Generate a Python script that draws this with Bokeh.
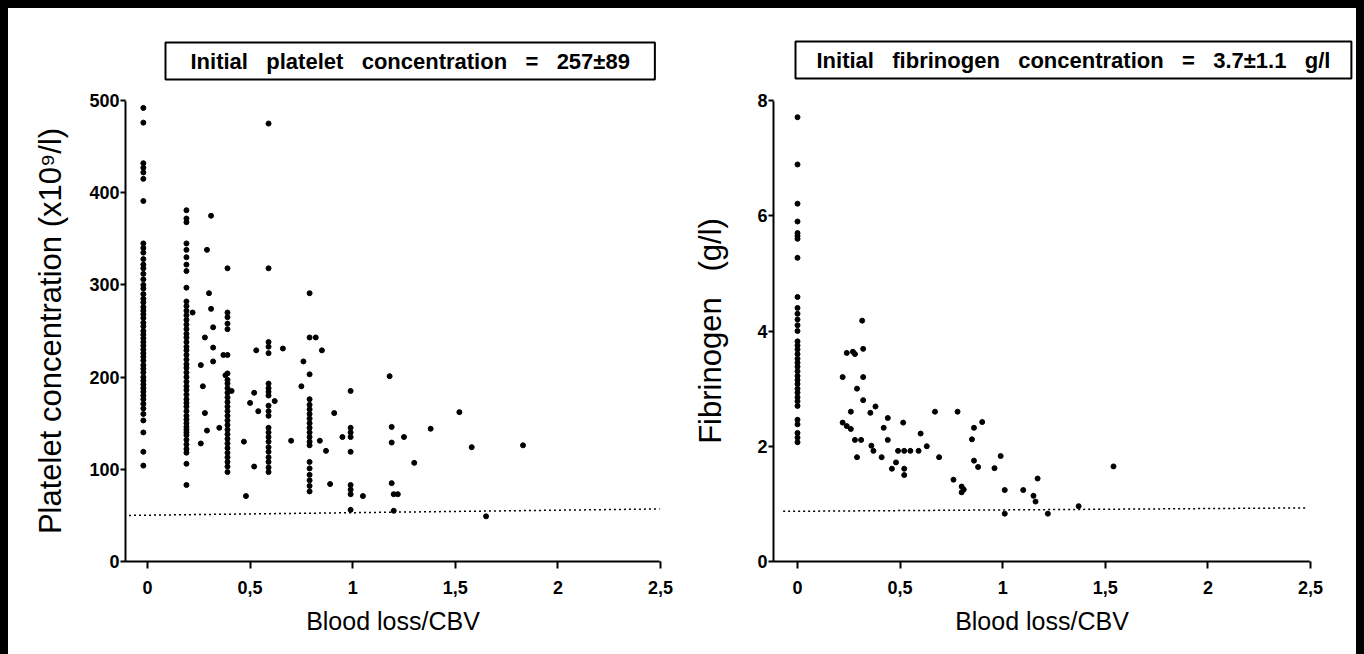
from bokeh.plotting import figure
from bokeh.layouts import row
from bokeh.models import FixedTicker, Range1d, CustomJSTickFormatter, Span
from bokeh.embed import file_html
from bokeh.resources import INLINE

# ---------------- Left panel: platelets ----------------
SP = "\u00a0\u00a0 "
plt_title = SP.join(["Initial", "platelet", "concentration", "=", "257\u00b189"])
plt_ylabel = "Platelet concentration (x10\u2079/l)"
xlabel = "Blood loss/CBV"
x_ticks = [0, 0.5, 1, 1.5, 2, 2.5]
plt_y_ticks = [0, 100, 200, 300, 400, 500]

plt_col0_x = -0.02
plt_col0_y = [492, 476, 432, 427, 422, 415, 391, 345, 340, 335, 328, 322, 318, 312, 306,
              300, 296, 290, 285, 281, 276, 272, 268, 264, 259, 255, 250, 246, 242, 238,
              234, 230, 226, 222, 218, 213, 209, 205, 200, 196, 192, 188, 184, 180, 176,
              171, 166, 160, 153, 140, 119, 104]
plt_col02_x = 0.19
plt_col02_y = [381, 372, 368, 345, 338, 330, 322, 315, 297, 282, 277, 272, 267, 262, 257,
               252, 247, 243, 238, 233, 229, 224, 219, 214, 210, 205, 200, 195, 190, 186,
               181, 176, 172, 168, 163, 158, 154, 150, 146, 143, 140, 137, 132, 127, 122,
               118, 106, 83]
plt_col04_x = 0.39
plt_col04_y = [318, 270, 265, 258, 252, 224, 204, 197, 193, 188, 183, 178, 173, 168, 163,
               158, 153, 148, 143, 138, 133, 128, 123, 118, 113, 108, 103, 97]
plt_col06_x = 0.59
plt_col06_y = [475, 318, 238, 233, 226, 193, 188, 184, 180, 169, 163, 158, 145, 140, 135,
               130, 124, 119, 113, 108, 102, 97]
plt_col08_x = 0.79
plt_col08_y = [291, 243, 203, 176, 170, 165, 160, 155, 150, 145, 140, 135, 130, 126, 108,
               101, 94, 88, 82, 76]
plt_col10_x = 0.99
plt_col10_y = [185, 145, 140, 135, 119, 83, 78, 73, 56]

plt_scatter_x = [0.31, 0.29, 0.30, 0.31, 0.22, 0.32, 0.28, 0.32, 0.26, 0.32, 0.27, 0.28,
                 0.29, 0.26, 0.35, 0.37, 0.38, 0.41, 0.47, 0.48, 0.53, 0.52, 0.50, 0.52,
                 0.54, 0.62, 0.66, 0.70, 0.82, 0.76, 0.75, 0.85, 0.84, 0.87, 0.89, 0.91,
                 0.95, 1.05, 1.18, 1.19, 1.19, 1.19, 1.20, 1.22, 1.25, 1.30, 1.38, 1.52,
                 1.58, 1.83, 1.65, 1.20]
plt_scatter_y = [375, 338, 291, 274, 270, 254, 243, 232, 213, 217, 190, 161,
                 142, 128, 145, 224, 202, 185, 130, 71, 229, 183, 172, 103,
                 163, 174, 231, 131, 243, 217, 190, 229, 131, 120, 84, 161,
                 135, 71, 201, 146, 129, 85, 73, 73, 135, 107, 144, 162,
                 124, 126, 49, 55]

plt_limit_x = [-0.09, 2.5]
plt_limit_y = [50, 57]

# ---------------- Right panel: fibrinogen ----------------
fib_title = SP.join(["Initial", "fibrinogen", "concentration", "=", "3.7\u00b11.1", "g/l"])
fib_ylabel = "Fibrinogen\u00a0\u00a0 (g/l)"
fib_y_ticks = [0, 2, 4, 6, 8]

fib_col0_x = 0.0
fib_col0_y = [7.71, 6.89, 6.21, 5.90, 5.70, 5.65, 5.60, 5.27, 4.59, 4.40, 4.30, 4.20,
              4.10, 4.00, 3.82, 3.75, 3.68, 3.60, 3.52, 3.45, 3.38, 3.30, 3.22, 3.15,
              3.08, 3.00, 2.93, 2.85, 2.78, 2.70, 2.46, 2.38, 2.23, 2.15, 2.07]

fib_scatter_x = [0.315, 0.24, 0.27, 0.28, 0.32, 0.22, 0.32, 0.29, 0.32, 0.26, 0.355, 0.38,
                 0.22, 0.24, 0.26, 0.44, 0.42, 0.515, 0.28, 0.31, 0.44, 0.36, 0.37, 0.29,
                 0.41, 0.49, 0.52, 0.55, 0.59, 0.63, 0.60, 0.46, 0.48, 0.52, 0.52, 0.67,
                 0.69, 0.78, 0.76, 0.80, 0.81, 0.80, 0.85, 0.86, 0.90, 0.86, 0.88, 0.96,
                 0.99, 1.01, 1.10, 1.15, 1.16, 1.17, 1.22, 1.01, 1.37, 1.54]
fib_scatter_y = [4.18, 3.62, 3.64, 3.60, 3.69, 3.20, 3.20, 3.00, 2.80, 2.60, 2.58, 2.69,
                 2.41, 2.35, 2.30, 2.49, 2.32, 2.41, 2.11, 2.11, 2.11, 2.01, 1.92, 1.81,
                 1.81, 1.92, 1.92, 1.92, 1.92, 2.00, 2.22, 1.61, 1.72, 1.61, 1.50, 2.60,
                 1.81, 2.60, 1.42, 1.30, 1.25, 1.20, 2.12, 2.32, 2.42, 1.75, 1.64, 1.62,
                 1.83, 1.24, 1.24, 1.14, 1.04, 1.44, 0.83, 0.83, 0.96, 1.65]

fib_limit_x = [-0.07, 2.48]
fib_limit_y = [0.87, 0.93]

FONT = "Liberation Sans"


def style(p, yticks, xlab, ylab, ylab_standoff):
    p.xgrid.visible = False
    p.ygrid.visible = False
    p.outline_line_color = None
    p.background_fill_color = None
    p.border_fill_color = None
    xax = p.below[0]
    yax = p.left[0]
    xax.ticker = FixedTicker(ticks=x_ticks)
    yax.ticker = FixedTicker(ticks=yticks)
    xax.formatter = CustomJSTickFormatter(code="return String(tick).replace('.', ',');")
    for ax in (xax, yax):
        ax.axis_line_color = "black"
        ax.axis_line_width = 2
        ax.major_tick_line_color = "black"
        ax.major_tick_line_width = 2
        ax.major_tick_out = 7
        ax.major_tick_in = 0
        ax.minor_tick_line_color = None
        ax.major_label_text_font = FONT
        ax.major_label_text_font_style = "bold"
        ax.major_label_text_font_size = "18px"
        ax.major_label_text_color = "black"
        ax.axis_label_text_font = FONT
        ax.axis_label_text_font_style = "normal"
        ax.axis_label_text_color = "black"
    xax.axis_label = xlab
    xax.major_label_standoff = 12
    xax.axis_label_text_font_size = "25px"
    xax.axis_label_standoff = 10
    yax.axis_label = ylab
    yax.axis_label_text_font_size = "31px"
    yax.axis_label_standoff = ylab_standoff
    yax.major_tick_out = 5
    yax.major_label_standoff = 1
    # white edges along the frame's top and right (hide faint frame seams)
    p.add_layout(Span(location=yticks[-1], dimension="width", line_color="white", line_width=2))
    p.add_layout(Span(location=x_ticks[-1], dimension="height", line_color="white", line_width=2))


def title_box(p, text, offset, standoff, pad):
    t = p.title
    t.text = text
    t.align = "left"
    t.offset = offset
    t.standoff = standoff
    t.text_font = FONT
    t.text_font_style = "bold"
    t.text_font_size = "22px"
    t.text_color = "black"
    t.border_line_color = "black"
    t.border_line_width = 2
    t.background_fill_color = "white"
    t.padding = dict(left=pad, right=pad, top=6, bottom=6)


H = 652
# Left figure: frame x 125..660, y 100..568 (page coordinates)
p1 = figure(width=674, height=H, output_backend="svg", toolbar_location=None,
            x_range=Range1d(-0.107, 2.5), y_range=Range1d(0, 500),
            min_border_left=117, min_border_right=22, min_border_top=92,
            min_border_bottom=H - 560)
style(p1, plt_y_ticks, xlabel, plt_ylabel, 18)
title_box(p1, plt_title, 40, 42, 25)

px = ([plt_col0_x] * len(plt_col0_y) + [plt_col02_x] * len(plt_col02_y) +
      [plt_col04_x] * len(plt_col04_y) + [plt_col06_x] * len(plt_col06_y) +
      [plt_col08_x] * len(plt_col08_y) + [plt_col10_x] * len(plt_col10_y) + plt_scatter_x)
py = plt_col0_y + plt_col02_y + plt_col04_y + plt_col06_y + plt_col08_y + plt_col10_y + plt_scatter_y
p1.line(plt_limit_x, plt_limit_y, line_color="black", line_width=1.5, line_dash="2 3")
p1.scatter(px, py, marker="circle", size=5, fill_color="black", line_color="black")

# Right figure: frame x 773..1310, y 92..561 (page coordinates)
p2 = figure(width=672, height=H, output_backend="svg", toolbar_location=None,
            x_range=Range1d(-0.117, 2.5), y_range=Range1d(0, 8),
            min_border_left=91, min_border_right=44, min_border_top=84,
            min_border_bottom=H - 553)
style(p2, fib_y_ticks, xlabel, fib_ylabel, 26)
title_box(p2, fib_title, 22, 44, 21)

fx = [fib_col0_x] * len(fib_col0_y) + fib_scatter_x
fy = fib_col0_y + fib_scatter_y
p2.line(fib_limit_x, fib_limit_y, line_color="black", line_width=1.5, line_dash="2 3")
p2.scatter(fx, fy, marker="circle", size=5, fill_color="black", line_color="black")

layout = row(p1, p2, spacing=0)
html = file_html(layout, INLINE)
css = ("<style>html{background:#000000 !important;overflow:hidden !important;}"
       "body{margin:8px !important;padding:0 !important;background:#ffffff !important;"
       "height:auto !important;}</style></head>")
html = html.replace("</head>", css, 1)
open("out.html", "w").write(html)
